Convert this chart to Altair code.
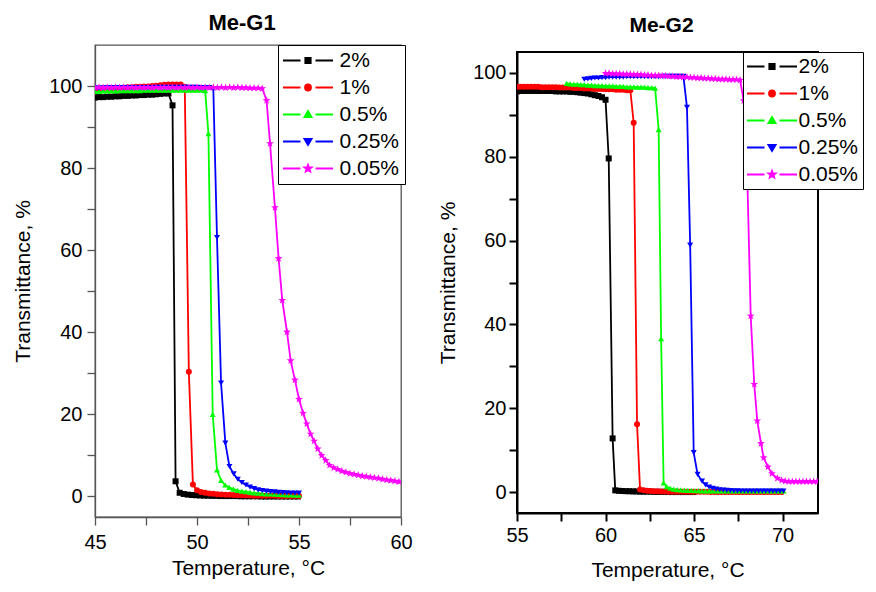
import altair as alt
import pandas as pd

FONT = "Liberation Sans"
SERIES = ["2%", "1%", "0.5%", "0.25%", "0.05%"]
COLORS = ["#000000", "#ff0000", "#00ff00", "#0000ff", "#ff00ff"]

# ---------------- Me-G1 ----------------
G1_T_2 = [45.0, 45.2, 45.4, 45.6, 45.8, 46.0, 46.2, 46.4, 46.6, 46.8, 47.0, 47.2, 47.4, 47.6, 47.8,
          48.0, 48.2, 48.4, 48.6, 48.8, 48.95,
          49.15, 49.35, 49.55, 49.75, 49.95, 50.15, 50.35, 50.55, 50.75, 50.95, 51.15, 51.35, 51.55,
          51.75, 51.95, 52.15, 52.35, 52.55, 52.75, 52.95, 53.15, 53.35, 53.55, 53.75, 53.95, 54.15,
          54.35, 54.55, 54.75, 54.95]
G1_V_2 = [97.2, 97.3, 97.3, 97.4, 97.4, 97.5, 97.5, 97.6, 97.6, 97.7, 97.7, 97.8, 97.8, 97.9, 97.9,
          98.0, 98.1, 98.2, 98.2, 95.3, 3.7,
          0.9, 0.6, 0.45, 0.35, 0.3, 0.25, 0.2, 0.2, 0.15, 0.15, 0.1, 0.1, 0.1, 0.1, 0.1, 0.05, 0.05,
          0.05, 0.05, 0.05, 0.0, 0.0, 0.0, 0.0, 0.0, 0.0, 0.0, 0.0, 0.0, 0.0]

G1_T_1 = [45.0, 45.2, 45.4, 45.6, 45.8, 46.0, 46.2, 46.4, 46.6, 46.8, 47.0, 47.2, 47.4, 47.6, 47.8,
          48.0, 48.2, 48.4, 48.6, 48.8, 49.0, 49.2, 49.4, 49.6, 49.8,
          50.0, 50.2, 50.4, 50.6, 50.8, 51.0, 51.2, 51.4, 51.6, 51.8, 52.0, 52.2, 52.4, 52.6, 52.8,
          53.0, 53.2, 53.4, 53.6, 53.8, 54.0, 54.2, 54.4, 54.6, 54.8, 55.0]
G1_V_1 = [99.4, 99.4, 99.5, 99.5, 99.5, 99.6, 99.6, 99.6, 99.7, 99.7, 99.8, 99.8, 99.9,
          99.9, 100.0, 100.1, 100.2, 100.3, 100.4, 100.4, 100.4, 100.4, 99.8, 30.4, 2.9,
          1.5, 1.1, 0.9, 0.75, 0.65, 0.55, 0.5, 0.45, 0.4, 0.35, 0.3, 0.3, 0.25, 0.25, 0.2, 0.2, 0.2,
          0.15, 0.15, 0.15, 0.1, 0.1, 0.1, 0.1, 0.1, 0.1]

G1_T_05 = [45.0, 45.2, 45.4, 45.6, 45.8, 46.0, 46.2, 46.4, 46.6, 46.8, 47.0, 47.2, 47.4, 47.6, 47.8,
           48.0, 48.2, 48.4, 48.6, 48.8, 49.0, 49.2, 49.4, 49.6, 49.8, 50.0, 50.2, 50.4,
           50.56, 50.77, 50.98, 51.18, 51.38, 51.58, 51.78, 51.98,
           52.2, 52.4, 52.6, 52.8, 53.0, 53.2, 53.4, 53.6, 53.8, 54.0, 54.2, 54.4, 54.6, 54.8, 55.0]
G1_V_05 = [98.7, 98.7, 98.8, 98.8, 98.8, 98.8, 98.9, 98.9, 98.9, 98.9, 98.9, 98.9, 99.0, 99.0, 99.0,
           99.0, 99.0, 99.0, 99.0, 99.0, 99.0, 99.0, 99.0, 99.0, 99.0, 99.0, 99.0, 98.9,
           88.4, 20.0, 6.5, 3.9, 2.8, 2.2, 1.8, 1.5,
           1.3, 1.15, 1.0, 0.9, 0.8, 0.7, 0.65, 0.6, 0.55, 0.5, 0.45, 0.4, 0.4, 0.35, 0.35]

G1_T_025 = [45.0, 45.2, 45.4, 45.6, 45.8, 46.0, 46.2, 46.4, 46.6, 46.8, 47.0, 47.2, 47.4, 47.6, 47.8,
            48.0, 48.2, 48.4, 48.6, 48.8, 49.0, 49.2, 49.4, 49.6, 49.8, 50.0, 50.2, 50.4, 50.6, 50.8,
            50.98, 51.18, 51.39, 51.59, 51.8, 52.0,
            52.2, 52.4, 52.6, 52.8, 53.0, 53.2, 53.4, 53.6, 53.8, 54.0, 54.2, 54.4, 54.6, 54.8, 55.0]
G1_V_025 = [99.5, 99.5, 99.5, 99.6, 99.6, 99.6, 99.6, 99.6, 99.6, 99.6, 99.6, 99.6, 99.6, 99.6, 99.6,
            99.7, 99.7, 99.7, 99.7, 99.7, 99.7, 99.7, 99.7, 99.7, 99.7, 99.7, 99.6, 99.6, 99.6, 99.3,
            63.1, 27.6, 13.0, 7.3, 5.5, 4.2,
            3.4, 2.8, 2.3, 1.9, 1.6, 1.45, 1.3, 1.2, 1.1, 1.0, 0.95, 0.9, 0.85, 0.8, 0.8]

G1_T_005 = [45.0, 45.2, 45.4, 45.6, 45.8, 46.0, 46.2, 46.4, 46.6, 46.8, 47.0, 47.2, 47.4, 47.6, 47.8,
            48.0, 48.2, 48.4, 48.6, 48.8, 49.0, 49.2, 49.4, 49.6, 49.8, 50.0, 50.2, 50.4, 50.6, 50.8,
            51.0, 51.2, 51.4, 51.6, 51.8, 52.0, 52.2, 52.4, 52.6, 52.8, 53.0, 53.2,
            53.41, 53.58, 53.82, 54.0, 54.18, 54.41, 54.59, 54.8, 55.0, 55.2, 55.38, 55.57, 55.74,
            55.92, 56.11, 56.31,
            56.5, 56.7, 56.9, 57.1, 57.3, 57.5, 57.7, 57.9, 58.1, 58.3, 58.5, 58.7, 58.9, 59.1, 59.3,
            59.5, 59.7, 59.9]
G1_V_005 = [99.6, 99.7, 99.6, 99.7, 99.6, 99.7, 99.6, 99.7, 99.6, 99.7, 99.6, 99.7, 99.6, 99.7, 99.6,
            99.7, 99.6, 99.7, 99.6, 99.7, 99.6, 99.7, 99.6, 99.7, 99.6, 99.7, 99.6, 99.7, 99.6, 99.7,
            99.6, 99.7, 99.6, 99.7, 99.6, 99.7, 99.6, 99.6, 99.5, 99.5, 99.5, 99.4,
            96.5, 86.0, 70.4, 58.0, 47.8, 40.1, 33.1, 28.4, 23.7, 20.3, 17.7, 15.2, 13.5,
            11.6, 10.0, 8.8,
            7.6, 7.0, 6.6, 6.2, 5.9, 5.6, 5.4, 5.2, 5.0, 4.85, 4.7, 4.55, 4.4, 4.2, 4.05,
            3.9, 3.75, 3.6]

# ---------------- Me-G2 ----------------
G2_T_2 = [55.0, 55.2, 55.4, 55.6, 55.8, 56.0, 56.2, 56.4, 56.6, 56.8, 57.0, 57.2, 57.4, 57.6, 57.8,
          58.0, 58.2, 58.4, 58.6, 58.8, 59.0, 59.2, 59.4, 59.6, 59.8, 60.0, 60.18, 60.4, 60.55,
          60.75, 60.95, 61.15, 61.35, 61.55, 61.75, 61.95, 62.15, 62.35, 62.55, 62.75, 62.95,
          63.15, 63.35, 63.55, 63.75, 63.95, 64.15, 64.35, 64.55, 64.75, 64.95]
G2_V_2 = [95.6, 95.7, 95.7, 95.7, 95.7, 95.7, 95.7, 95.7, 95.7, 95.7, 95.7, 95.6, 95.6, 95.6, 95.6,
          95.5, 95.5, 95.4, 95.3, 95.2, 95.1, 94.9, 94.7, 94.5, 94.2, 93.6, 79.6, 12.8, 0.4,
          0.3, 0.25, 0.2, 0.2, 0.15, 0.15, 0.1, 0.1, 0.1, 0.1, 0.05, 0.05,
          0.05, 0.05, 0.0, 0.0, 0.0, 0.0, 0.0, 0.0, 0.0, 0.0]

G2_T_1 = [55.0, 55.2, 55.4, 55.6, 55.8, 56.0, 56.2, 56.4, 56.6, 56.8, 57.0, 57.2, 57.4, 57.6, 57.8,
          58.0, 58.2, 58.4, 58.6, 58.8, 59.0, 59.2, 59.4, 59.6, 59.8, 60.0, 60.2, 60.4, 60.6, 60.8,
          61.0, 61.2, 61.4, 61.59, 61.78, 61.95,
          62.15, 62.35, 62.55, 62.75, 62.95, 63.15, 63.35, 63.55, 63.75, 63.95, 64.15, 64.35, 64.55,
          64.75, 64.95, 65.15, 65.35, 65.55, 65.75, 65.95, 66.15, 66.35, 66.55, 66.75, 66.95, 67.15,
          67.35, 67.55, 67.75, 67.95, 68.15, 68.35, 68.55, 68.75, 68.95, 69.15, 69.35, 69.55, 69.75,
          69.95]
G2_V_1 = [96.7, 96.7, 96.7, 96.7, 96.7, 96.7, 96.7, 96.6, 96.6, 96.6, 96.6, 96.6, 96.5, 96.5, 96.5,
          96.5, 96.4, 96.4, 96.4, 96.3, 96.3, 96.3, 96.2, 96.2, 96.2, 96.1, 96.1, 96.1, 96.0, 96.0,
          96.0, 95.9, 95.9, 88.1, 16.2, 0.6,
          0.4, 0.3, 0.25, 0.2, 0.2, 0.15, 0.15, 0.1, 0.1, 0.1, 0.1, 0.1, 0.05, 0.05, 0.05, 0.05, 0.05,
          0.05, 0.05, 0.0, 0.0, 0.0, 0.0, 0.0, 0.0, 0.0, 0.0, 0.0, 0.0, 0.0, 0.0, 0.0, 0.0, 0.0,
          0.0, 0.0, 0.0, 0.0, 0.0, 0.0]

G2_T_05 = [57.8, 58.0, 58.2, 58.4, 58.6, 58.8, 59.0, 59.2, 59.4, 59.6, 59.8, 60.0, 60.2, 60.4, 60.6,
           60.8, 61.0, 61.2, 61.4, 61.6, 61.8, 62.0, 62.2, 62.4, 62.6, 62.8,
           63.0, 63.14, 63.28, 63.45,
           63.65, 63.85, 64.05, 64.25, 64.45, 64.65, 64.85, 65.05, 65.25, 65.45, 65.65, 65.85, 66.05,
           66.25, 66.45, 66.65, 66.85, 67.05, 67.25, 67.45, 67.65, 67.85, 68.05, 68.25, 68.45, 68.65,
           68.85, 69.05, 69.25, 69.45, 69.65, 69.85, 70.05]
G2_V_05 = [97.5, 97.4, 97.3, 97.3, 97.2, 97.2, 97.1, 97.1, 97.0, 97.0, 97.0, 96.9, 96.9, 96.9, 96.8,
           96.8, 96.8, 96.7, 96.7, 96.7, 96.6, 96.6, 96.6, 96.5, 96.5, 96.4,
           86.5, 36.6, 2.2, 1.3,
           0.9, 0.7, 0.6, 0.5, 0.45, 0.4, 0.4, 0.35, 0.35, 0.3, 0.3, 0.3, 0.3, 0.3, 0.3, 0.3, 0.3,
           0.3, 0.3, 0.3, 0.3, 0.3, 0.3, 0.3, 0.3, 0.3, 0.3, 0.3, 0.3, 0.3, 0.3, 0.3, 0.3]

G2_T_025 = [58.8, 59.0, 59.2, 59.4, 59.6, 59.8, 60.0, 60.2, 60.4, 60.6, 60.8, 61.0, 61.2, 61.4, 61.6,
            61.8, 62.0, 62.2, 62.4, 62.6, 62.8, 63.0, 63.2, 63.4, 63.6, 63.8, 64.0, 64.2, 64.4,
            64.6, 64.78, 64.98, 65.2, 65.45,
            65.65, 65.85, 66.05, 66.25, 66.45, 66.65, 66.85, 67.05, 67.25, 67.45, 67.65, 67.85, 68.05,
            68.25, 68.45, 68.65, 68.85, 69.05, 69.25, 69.45, 69.65, 69.85, 70.05]
G2_V_025 = [98.5, 98.6, 98.7, 98.8, 98.8, 98.9, 98.9, 99.0, 99.0, 99.0, 99.0, 99.0, 99.1, 99.1, 99.1,
            99.1, 99.1, 99.1, 99.1, 99.1, 99.1, 99.1, 99.2, 99.2, 99.2, 99.2, 99.2, 99.2, 99.2,
            91.8, 58.9, 9.4, 4.2, 2.6,
            1.7, 1.2, 0.9, 0.7, 0.55, 0.45, 0.4, 0.35, 0.3, 0.3, 0.25, 0.25, 0.2, 0.2, 0.2, 0.2,
            0.2, 0.2, 0.2, 0.2, 0.2, 0.2, 0.2]

G2_T_005 = [60.0, 60.2, 60.4, 60.6, 60.8, 61.0, 61.2, 61.4, 61.6, 61.8, 62.0, 62.2, 62.4, 62.6, 62.8,
            63.0, 63.2, 63.4, 63.6, 63.8, 64.0, 64.2, 64.4, 64.6, 64.8, 65.0, 65.2, 65.4, 65.6, 65.8,
            66.0, 66.2, 66.4, 66.6, 66.8, 67.0, 67.2, 67.4, 67.6,
            67.8, 67.99, 68.2, 68.4, 68.57, 68.78, 68.93, 69.17, 69.4, 69.7,
            69.95, 70.15, 70.35, 70.55, 70.75, 70.95, 71.15, 71.35, 71.55, 71.75, 71.95]
G2_V_005 = [99.9, 99.9, 99.8, 99.8, 99.8, 99.7, 99.7, 99.7, 99.6, 99.6, 99.6, 99.5, 99.5, 99.4, 99.4,
            99.4, 99.3, 99.3, 99.2, 99.2, 99.1, 99.1, 99.0, 99.0, 98.9, 98.9, 98.8, 98.8, 98.7, 98.7,
            98.6, 98.6, 98.5, 98.5, 98.5, 98.4, 98.4, 98.4, 98.3,
            93.4, 78.0, 42.0, 25.7, 17.0, 11.6, 8.2, 6.0, 4.4, 3.3,
            2.8, 2.6, 2.5, 2.5, 2.5, 2.5, 2.5, 2.5, 2.5, 2.5, 2.5]

G1_SERIES = [(G1_T_2, G1_V_2), (G1_T_1, G1_V_1), (G1_T_05, G1_V_05),
             (G1_T_025, G1_V_025), (G1_T_005, G1_V_005)]
G2_SERIES = [(G2_T_2, G2_V_2), (G2_T_1, G2_V_1), (G2_T_05, G2_V_05),
             (G2_T_025, G2_V_025), (G2_T_005, G2_V_005)]

# plot marker shapes
STAR = ("M0,-1.35L0.334,-0.459L1.284,-0.417L0.539,0.176L0.794,1.092L0,0.567"
        "L-0.794,1.092L-0.539,0.176L-1.284,-0.417L-0.334,-0.459Z")
PLOT_SHAPES = ["square", "circle", "triangle-up", "triangle-down", STAR]

# legend symbols: line segment with the marker in the middle
SEG = "M-8.33,0H-2.5M2.5,0H8.33"
LEGEND_SHAPES = [
    SEG + "M-0.9,-0.9H0.9V0.9H-0.9Z",
    SEG + "M1,0A1,1 0 1,1 -1,0A1,1 0 1,1 1,0Z",
    SEG + "M0,-1.15L1.2,0.85L-1.2,0.85Z",
    SEG + "M0,1.15L1.2,-0.85L-1.2,-0.85Z",
    SEG + ("M0,-1.25L0.309,-0.425L1.189,-0.386L0.499,0.163L0.735,1.011L0,0.525"
           "L-0.735,1.011L-0.499,0.163L-1.189,-0.386L-0.309,-0.425Z"),
]


def frame(series):
    rows = []
    for name, (ts, vs) in zip(SERIES, series):
        assert len(ts) == len(vs), name
        for t, v in zip(ts, vs):
            rows.append({"T": t, "V": v, "s": name})
    return pd.DataFrame(rows)


def panel(df, xdom, xvals, ydom, w, h, axcol, axw, ylabpad, ytitlepad,
          xlabpad, xtitlepad, legx, legpad, laboff):
    common = dict(grid=False, domainColor=axcol, domainWidth=axw, tickColor=axcol, tickWidth=axw,
                  tickSize=8, labelFont=FONT, labelFontSize=20, labelColor="black",
                  labelFlush=False, labelOverlap=False,
                  titleFont=FONT, titleFontSize=21, titleFontWeight="normal", titleColor="black")
    xaxis = alt.Axis(values=xvals, title="Temperature, °C",
                     labelExpr="datum.value % 5 === 0 ? datum.label : ''",
                     labelPadding=xlabpad, titlePadding=xtitlepad, **common)
    yaxis = alt.Axis(values=[0, 10, 20, 30, 40, 50, 60, 70, 80, 90, 100], title="Transmittance, %",
                     labelExpr="datum.value % 20 === 0 ? datum.label : ''",
                     labelPadding=ylabpad, titlePadding=ytitlepad, **common)
    X = alt.X("T:Q", scale=alt.Scale(domain=xdom, nice=False, zero=False), axis=xaxis)
    Y = alt.Y("V:Q", scale=alt.Scale(domain=ydom, nice=False, zero=False), axis=yaxis)
    cscale = alt.Scale(domain=SERIES, range=COLORS)

    base = alt.Chart(df)
    lines = base.mark_line(strokeWidth=1.8, clip=True).encode(
        x=X, y=Y, color=alt.Color("s:N", scale=cscale, legend=None), detail="s:N")
    points = base.mark_point(filled=True, size=36, opacity=1, clip=True).encode(
        x=X, y=Y,
        color=alt.Color("s:N", scale=cscale, legend=None),
        shape=alt.Shape("s:N", scale=alt.Scale(domain=SERIES, range=PLOT_SHAPES), legend=None))
    leg = alt.Legend(title=None, orient="none", legendX=legx, legendY=0, direction="vertical",
                     symbolSize=36, symbolStrokeWidth=1.8, symbolOpacity=1,
                     symbolOffset=14.5, labelOffset=laboff, offset=0,
                     labelFont=FONT, labelFontSize=21, labelColor="black", labelLimit=200,
                     rowPadding=5, padding=legpad, strokeColor="black", fillColor="white",
                     cornerRadius=0)
    legend_layer = base.mark_point(filled=True, opacity=0, size=36, clip=True).encode(
        x=X, y=Y,
        color=alt.Color("s:N", scale=cscale, legend=leg),
        stroke=alt.Stroke("s:N", scale=alt.Scale(domain=SERIES, range=COLORS), legend=leg),
        shape=alt.Shape("s:N", scale=alt.Scale(domain=SERIES, range=LEGEND_SHAPES), legend=leg))
    return alt.layer(lines, points, legend_layer).resolve_scale(
        color="independent", shape="independent", stroke="independent"
    ).properties(width=w, height=h, view=alt.ViewBackground(stroke=axcol, strokeWidth=axw))


left = panel(frame(G1_SERIES), [45, 60], [45, 47.5, 50, 52.5, 55, 57.5, 60], [-5, 110],
             306, 472, "#555555", 1.3, 5, 15, 7, 5, 183, 5, 21).properties(
    title=alt.TitleParams("Me-G1", font=FONT, fontSize=22, fontWeight="bold", color="black",
                          anchor="middle", frame="group", offset=9.5, dx=-6))

right_plot = panel(frame(G2_SERIES), [55, 72], [55, 57.5, 60, 62.5, 65, 67.5, 70], [-5, 105],
                   301, 461, "#000000", 2, 3, 14, 4, 14, 226, 4, 16)

# empty strip that carries the Me-G2 title and lowers that panel's frame a little
spacer = alt.Chart(pd.DataFrame({"s": [""]})).mark_point(size=0, opacity=0).encode(
    detail="s:N").properties(
    width=301, height=4, view=alt.ViewBackground(stroke="transparent"),
    title=alt.TitleParams("Me-G2", font=FONT, fontSize=21, fontWeight="bold", color="black",
                          anchor="middle", frame="group", offset=9.5, dx=-6))

right = alt.vconcat(spacer, right_plot, spacing=0)

chart = alt.hconcat(left, right, spacing=23).properties(
    padding={"left": 3, "top": 3, "right": 0, "bottom": 0},
    background="white")

chart.save("out.html", embed_options={"renderer": "svg", "actions": False})
